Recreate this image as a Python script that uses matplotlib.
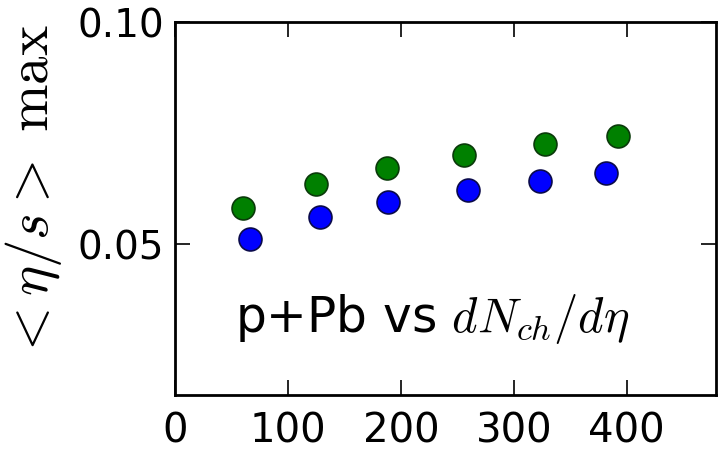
import matplotlib
matplotlib.use("Agg")
import matplotlib.pyplot as plt

# dN_ch/deta positions and <eta/s> max values
x_green = [60, 125, 188, 256, 328, 392]
y_green = [0.0581, 0.0635, 0.0671, 0.0700, 0.0725, 0.0743]
x_blue = [66, 128, 189, 259, 323, 382]
y_blue = [0.0511, 0.0561, 0.0595, 0.0622, 0.0642, 0.0660]

xticks = [0, 100, 200, 300, 400]
yticks = [0.05, 0.10]
yticklabels = ["0.05", "0.10"]

plt.rcParams["mathtext.fontset"] = "cm"

fig = plt.figure(figsize=(7.18, 4.54), dpi=100)
ax = fig.add_axes([175 / 718, 1 - 395 / 454, 541 / 718, 373 / 454])

ax.plot(x_green, y_green, "o", color="green", ms=16.5, mec="#0a3a0a", mew=1.2)
ax.plot(x_blue, y_blue, "o", color="blue", ms=16.5, mec="#0a0a4a", mew=1.2)

ax.set_xlim(0, 479)
ax.set_ylim(0.016, 0.10)
ax.set_xticks(xticks)
ax.set_yticks(yticks)
ax.set_yticklabels(yticklabels)
ax.tick_params(direction="in", length=11, width=1.2, top=True, right=True)
ax.tick_params(axis="x", labelsize=29, pad=12)
ax.tick_params(axis="y", labelsize=28, pad=8)
for s in ax.spines.values():
    s.set_linewidth(2)

ax.set_ylabel(r"$<\eta/s>\ \mathrm{max}$", fontsize=41)
ax.yaxis.set_label_coords(-0.205, 0.545)

ax.text(0.111, 0.169, r"p+Pb vs $dN_{ch}/d\eta$", transform=ax.transAxes,
        fontsize=35, ha="left", va="baseline")

fig.savefig("out.png", dpi=100)
